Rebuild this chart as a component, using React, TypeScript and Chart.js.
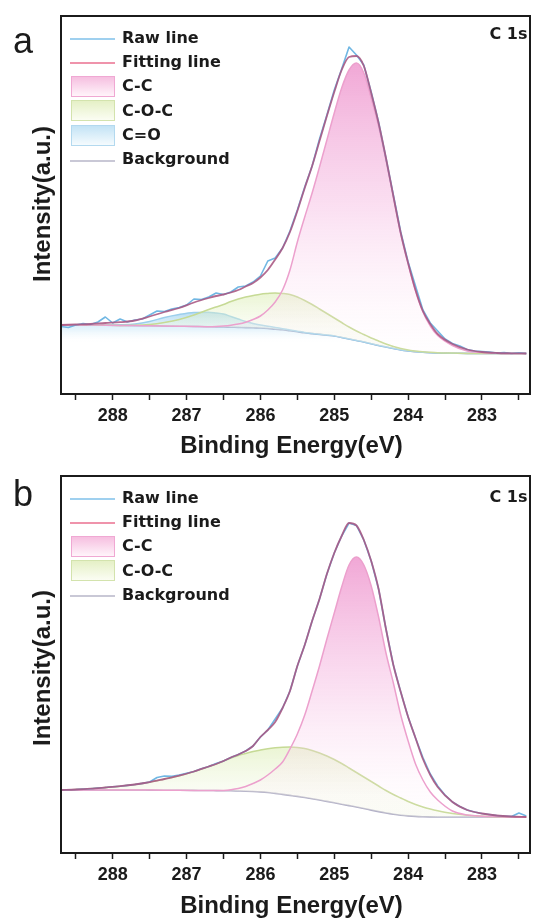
import React, { useEffect, useRef } from "react";
import { Chart, registerables } from "chart.js";

Chart.register(...registerables);

// ---------- data ----------
const X_MIN = 282.35;
const X_MAX = 288.7;
const X_TICKS = [288.5, 288, 287.5, 287, 286.5, 286, 285.5, 285, 284.5, 284, 283.5, 283, 282.5];

// energy grid for fitted components (eV)
const E_GRID = [
  288.7, 288.5, 288.3, 288.1, 287.9, 287.7, 287.5, 287.3, 287.1, 286.9, 286.7,
  286.6, 286.5, 286.4, 286.3, 286.2, 286.1, 286.0, 285.9, 285.8, 285.7, 285.6,
  285.5, 285.4, 285.3, 285.2, 285.1, 285.0, 284.9, 284.8, 284.7, 284.6, 284.5,
  284.4, 284.3, 284.2, 284.1, 284.0, 283.9, 283.8, 283.7, 283.6,
  283.4, 283.2, 283.0, 282.8, 282.6, 282.4,
];

// energy grid for raw spectra (eV)
const E_RAW = [
  288.7, 288.6, 288.5, 288.4, 288.3, 288.2, 288.1, 288.0, 287.9, 287.8,
  287.7, 287.6, 287.5, 287.4, 287.3, 287.2, 287.1, 287.0, 286.9, 286.8,
  286.7, 286.6, 286.5, 286.4, 286.3, 286.2, 286.1, 286.0, 285.9, 285.8,
  285.7, 285.6, 285.5, 285.4, 285.3, 285.2, 285.1, 285.0, 284.9, 284.8,
  284.7, 284.6, 284.5, 284.4, 284.3, 284.2, 284.1, 284.0, 283.9, 283.8,
  283.7, 283.6, 283.5, 283.4, 283.3, 283.2, 283.1, 283.0, 282.9, 282.8,
  282.7, 282.6, 282.5, 282.4,
];

// ----- panel a -----
const A_RAW = [
  67.5, 66.5, 69, 70.5, 69.5, 72, 77, 71, 75, 72,
  74, 75, 79, 83, 82.5, 85, 86.5, 89, 95, 94.5,
  97, 101, 99.5, 102, 107, 108, 112, 118, 133, 136,
  146, 163, 184, 207, 228, 255, 279, 304, 325, 347,
  339, 329, 302, 272, 236, 199, 162, 132, 108, 84,
  71, 63, 55, 50.5, 48, 44.5, 43, 42.5, 42, 41,
  41.5, 40.5, 41.2, 40.5,
];
const A_FIT = [
  69, 69.5, 70, 71, 71.8, 73.5, 77.5, 82, 86, 91.5, 96,
  98, 99.5, 101.5, 104, 107.5, 111, 116.5, 124, 134.5, 146, 162,
  183, 206, 228, 253, 278, 302, 324, 337, 338, 328, 301,
  271, 236, 198, 161, 131, 104, 83, 70, 60,
  50, 44.5, 42, 41, 40.7, 40.5,
];
const A_CC = [
  69, 69, 69, 68.8, 68.6, 68.4, 68.2, 68, 67.8, 67.6, 67.3,
  67.5, 68, 68.8, 70, 71.8, 74.5, 78, 84, 92, 104, 124,
  152, 177, 201, 227, 254, 281, 306, 324, 331, 321, 296,
  268, 234, 197, 160, 130, 103, 82, 68, 58.5,
  48.5, 43, 41.5, 40.8, 40.5, 40.5,
];
const A_COC = [
  69, 69, 69, 68.8, 68.6, 68.7, 69.5, 71.5, 74.5, 79, 84.5,
  87, 89.5, 92.5, 95, 97, 98.5, 99.8, 100.5, 101, 100.5, 99.5,
  97, 93.5, 89.5, 85, 80.5, 76, 71.5, 67, 63, 59.5, 56,
  53, 50, 47.5, 45.5, 44, 43, 42.2, 41.7, 41.3,
  40.9, 40.6, 40.5, 40.5, 40.5, 40.5,
];
const A_CO = [
  69, 69, 69, 69, 69.2, 70, 72.5, 76.5, 79.5, 81.5, 81.8,
  81, 80, 77.5, 75, 72.5, 70.5, 69, 67.8, 66.5, 65.3, 64,
  62.8, 61.6, 60.6, 59.8, 59, 58.1, 56.5, 55, 53.5, 52, 50.3,
  48.5, 47, 45.5, 44, 43, 42.3, 41.7, 41.3, 41,
  40.8, 40.6, 40.5, 40.5, 40.5, 40.5,
];
const A_BG = [
  69, 69, 69, 68.8, 68.6, 68.4, 68.2, 68, 67.8, 67.6, 67.3,
  67.1, 67, 66.8, 66.6, 66.4, 66.2, 66, 65.5, 64.8, 64.2, 63.2,
  62.2, 61.2, 60.4, 59.6, 58.8, 58, 56.5, 55, 53.5, 52, 50.3,
  48.5, 47, 45.5, 44, 43, 42.3, 41.7, 41.3, 41,
  40.8, 40.6, 40.5, 40.5, 40.5, 40.5,
];

// ----- panel b -----
const B_RAW = [
  63, 63.3, 63.5, 64, 64.3, 65, 65.5, 66.2, 66.8, 67.6,
  68.5, 69.6, 71, 75.5, 77, 76.8, 78, 79.8, 81.5, 84.2,
  86.5, 89.5, 92, 95.5, 98.5, 102, 107, 116, 123, 134,
  145, 162, 187, 208, 232, 254, 279, 300, 317, 330,
  327.5, 313, 292, 264, 224, 188, 161, 136, 115, 95.5,
  79, 67, 58, 51, 46.5, 43, 41, 39.5, 38.5, 37.5,
  37, 36.5, 40, 37,
];
const B_FIT = [
  63, 63.5, 64.3, 65.5, 66.8, 68.5, 70.8, 74, 77.3, 81.5, 86.5,
  89, 92, 95.5, 98.5, 102, 107, 116, 123, 131, 145, 162,
  187, 208, 232, 254, 279, 300, 317, 330, 327.5, 313, 292,
  264, 224, 188, 161, 136, 115, 94, 78, 66,
  51, 43, 39.5, 37.5, 36.5, 36,
];
const B_CC = [
  63, 63, 63, 63, 63, 63, 62.9, 62.8, 62.7, 62.6, 62.5,
  62.4, 62.6, 63.3, 64.5, 66.5, 69.5, 73, 78, 84, 91, 104,
  119, 138, 162, 187, 214, 240, 266, 288, 296, 288, 267,
  236, 200, 170, 138, 112, 89, 73, 61, 53,
  42, 38, 36.8, 36.3, 36, 36,
];
const B_COC = [
  63, 63.5, 64.3, 65.5, 66.8, 68.5, 70.8, 74, 77.3, 81.5, 86.5,
  89, 92, 95, 97.5, 99.5, 101.5, 103, 104.3, 105.2, 105.8, 106,
  105.6, 104.5, 102.5, 100, 97, 93.5, 89.5, 85, 80.5, 76, 71.5,
  67, 62.5, 58.5, 55, 51.5, 48.5, 46, 44, 42.3,
  39.5, 37.8, 36.8, 36.3, 36, 36,
];
const B_BG = [
  63, 63, 63, 63, 63, 63, 62.9, 62.8, 62.7, 62.6, 62.5,
  62.4, 62.3, 62.2, 62, 61.8, 61.5, 61.1, 60.5, 59.6, 58.6, 57.6,
  56.6, 55.5, 54.3, 53, 51.6, 50.2, 48.8, 47.4, 46, 44.5, 42.9,
  41.4, 40, 38.8, 37.8, 37.1, 36.6, 36.3, 36.1, 36,
  36, 36, 36, 36, 36, 36,
];

const Y_MAX_A = 378;
const Y_MAX_B = 377;

// ---------- styling ----------
const COLOR_RAW = "#70b7e3";
const COLOR_FIT = "rgba(168,86,130,0.88)";
const COLOR_CC = "#eca0cd";
const COLOR_COC = "#c6da95";
const COLOR_CO = "#9ccfec";
const COLOR_BG = "#b0aec6";
const INK = "#1b1b1b";
const ARIAL = "'Liberation Sans', Arial, Helvetica, sans-serif";
const DEJAVU = "'DejaVu Sans', Verdana, sans-serif";

const pts = (xs: number[], ys: number[]) => xs.map((x, i) => ({ x, y: ys[i] }));

function vGrad(chart: any, topVal: number, botVal: number, stops: [number, string][], extraPx = 0) {
  const { ctx, chartArea, scales } = chart;
  if (!chartArea || !scales || !scales.y) return stops[0][1];
  const t = scales.y.getPixelForValue(topVal);
  const b = scales.y.getPixelForValue(botVal) + extraPx;
  const g = ctx.createLinearGradient(0, t, 0, Math.max(b, t + 1));
  stops.forEach(([o, c]) => g.addColorStop(o, c));
  return g;
}

const CC_STOPS: [number, string][] = [
  [0, "rgba(236,138,200,0.75)"],
  [0.5, "rgba(245,185,225,0.45)"],
  [1, "rgba(255,240,250,0.08)"],
];
const COC_STOPS: [number, string][] = [
  [0, "rgba(214,234,168,0.5)"],
  [1, "rgba(240,248,222,0.3)"],
];
const CO_STOPS: [number, string][] = [
  [0, "rgba(140,200,236,0.6)"],
  [0.55, "rgba(180,222,244,0.35)"],
  [1, "rgba(255,255,255,0)"],
];

type Comp = { label: string; vals: number[]; color: string; kind: "cc" | "coc" | "co" };

function buildDatasets(raw: number[], fit: number[], comps: Comp[], bg: number[]) {
  const bgIndex = 2 + comps.length;
  const bgMin = Math.min(...bg);
  const bgMax = Math.max(...bg);
  const list: any[] = [
    {
      label: "Fitting line",
      data: pts(E_GRID, fit),
      borderColor: COLOR_FIT,
      borderWidth: 1.8,
      cubicInterpolationMode: "monotone",
      fill: false,
    },
    {
      label: "Raw line",
      data: pts(E_RAW, raw),
      borderColor: COLOR_RAW,
      borderWidth: 1.6,
      tension: 0,
      fill: false,
    },
  ];
  comps.forEach((c) => {
    const top = Math.max(...c.vals);
    let fill: any = bgIndex;
    let bgColor: any;
    if (c.kind === "cc") {
      bgColor = (ctx: any) => vGrad(ctx.chart, top, bgMin, CC_STOPS);
    } else if (c.kind === "coc") {
      bgColor = (ctx: any) => vGrad(ctx.chart, top, bgMax - 4, COC_STOPS);
    } else {
      fill = "origin";
      bgColor = (ctx: any) => vGrad(ctx.chart, top, bgMax, CO_STOPS, 18);
    }
    list.push({
      label: c.label,
      data: pts(E_GRID, c.vals),
      borderColor: c.color,
      borderWidth: 1.5,
      cubicInterpolationMode: "monotone",
      fill,
      backgroundColor: bgColor,
    });
  });
  list.push({
    label: "Background",
    data: pts(E_GRID, bg),
    borderColor: COLOR_BG,
    borderWidth: 1.6,
    cubicInterpolationMode: "monotone",
    fill: false,
  });
  return list;
}

const framePlugin = {
  id: "frame",
  afterDatasetsDraw(chart: any) {
    const { ctx, chartArea } = chart;
    const { left, top, right, bottom } = chartArea;
    ctx.save();
    ctx.strokeStyle = INK;
    ctx.lineWidth = 2;
    ctx.strokeRect(left, top, right - left, bottom - top);
    ctx.restore();
  },
};

type LegendItem = { label: string; kind: "line" | "box"; color: string; fillFrom?: string; fillTo?: string };

type PanelSpec = {
  top: number;
  height: number;
  axisH: number;
  yMax: number;
  datasets: any[];
  letter: string;
  letterTop: number;
  c1sTop: number;
  yTitleTop: number;
  legend: LegendItem[];
};

function Panel({ spec }: { spec: PanelSpec }) {
  const ref = useRef<HTMLCanvasElement | null>(null);
  useEffect(() => {
    if (!ref.current) return;
    const chart = new Chart(ref.current, {
      type: "line",
      data: { datasets: spec.datasets },
      options: {
        responsive: false,
        animation: false,
        events: [],
        layout: { padding: { left: 61, right: 4, top: 16, bottom: 0 } },
        elements: { point: { radius: 0 }, line: { borderJoinStyle: "round" } },
        plugins: { legend: { display: false }, tooltip: { enabled: false } },
        scales: {
          x: {
            type: "linear",
            reverse: true,
            min: X_MIN,
            max: X_MAX,
            afterBuildTicks: (s: any) => {
              s.ticks = X_TICKS.map((v) => ({ value: v }));
            },
            afterFit: (s: any) => {
              s.height = spec.axisH;
            },
            ticks: {
              autoSkip: false,
              maxRotation: 0,
              includeBounds: false,
              padding: 5,
              color: INK,
              font: { family: ARIAL, size: 18, weight: "bold" },
              callback: (v: any) => (Number.isInteger(Number(v)) ? String(v) : ""),
            },
            grid: {
              drawOnChartArea: false,
              drawTicks: true,
              tickLength: 6,
              tickWidth: 1.5,
              tickColor: INK,
            },
            border: { display: false },
          },
          y: { display: false, min: 0, max: spec.yMax },
        },
      } as any,
      plugins: [framePlugin],
    });
    return () => chart.destroy();
  }, []);

  const rowY = (i: number) => 37.5 + 24.3 * i;

  return (
    <div style={{ position: "absolute", left: 0, top: spec.top, width: 534, height: spec.height }}>
      <canvas
        ref={ref}
        width={534}
        height={spec.height}
        style={{ position: "absolute", left: 0, top: 0, width: 534, height: spec.height, display: "block" }}
      />
      <div
        style={{
          position: "absolute",
          left: 13,
          top: spec.letterTop,
          fontFamily: ARIAL,
          fontSize: 36,
          lineHeight: "36px",
          color: INK,
        }}
      >
        {spec.letter}
      </div>
      <div
        style={{
          position: "absolute",
          right: 6.5,
          top: spec.c1sTop,
          fontFamily: DEJAVU,
          fontWeight: "bold",
          fontSize: 16,
          lineHeight: "16px",
          color: INK,
          whiteSpace: "nowrap",
        }}
      >
        C 1s
      </div>
      {spec.legend.map((it, i) => {
        const cy = rowY(i);
        return (
          <React.Fragment key={it.label}>
            {it.kind === "line" ? (
              <div
                style={{
                  position: "absolute",
                  left: 70,
                  top: cy + 0.5,
                  width: 45,
                  height: 2,
                  background: it.color,
                }}
              />
            ) : (
              <div
                style={{
                  position: "absolute",
                  left: 71,
                  top: cy - 10,
                  width: 44,
                  height: 21,
                  boxSizing: "border-box",
                  border: `1px solid ${it.color}`,
                  background: `linear-gradient(to bottom, ${it.fillFrom}, ${it.fillTo})`,
                }}
              />
            )}
            <div
              style={{
                position: "absolute",
                left: 122,
                top: cy - 7.7,
                fontFamily: DEJAVU,
                fontWeight: "bold",
                fontSize: 16,
                lineHeight: "16px",
                color: INK,
                whiteSpace: "nowrap",
              }}
            >
              {it.label}
            </div>
          </React.Fragment>
        );
      })}
      <div
        style={{
          position: "absolute",
          left: 42,
          top: spec.yTitleTop,
          transform: "translate(-50%, -50%) rotate(-90deg)",
          fontFamily: ARIAL,
          fontWeight: "bold",
          fontSize: 24,
          lineHeight: "24px",
          color: INK,
          whiteSpace: "nowrap",
        }}
      >
        Intensity(a.u.)
      </div>
      <div
        style={{
          position: "absolute",
          left: 291.5,
          top: 432.5,
          transform: "translateX(-50%)",
          fontFamily: ARIAL,
          fontWeight: "bold",
          fontSize: 24,
          lineHeight: "24px",
          color: INK,
          whiteSpace: "nowrap",
        }}
      >
        Binding Energy(eV)
      </div>
    </div>
  );
}

const LEG_RAW: LegendItem = { label: "Raw line", kind: "line", color: "#9fd0ef" };
const LEG_FIT: LegendItem = { label: "Fitting line", kind: "line", color: "#ef93ab" };
const LEG_CC: LegendItem = { label: "C-C", kind: "box", color: "#f0a8d3", fillFrom: "#f6bfe0", fillTo: "#fff4fa" };
const LEG_COC: LegendItem = { label: "C-O-C", kind: "box", color: "#d3e3ad", fillFrom: "#e5f0c6", fillTo: "#fbfdf3" };
const LEG_CO: LegendItem = { label: "C=O", kind: "box", color: "#b3d9ef", fillFrom: "#c3e3f5", fillTo: "#f5fbfe" };
const LEG_BG: LegendItem = { label: "Background", kind: "line", color: "#c9c8d6" };

export default function App() {
  const specA: PanelSpec = {
    top: 0,
    height: 460,
    axisH: 66,
    yMax: Y_MAX_A,
    datasets: buildDatasets(
      A_RAW,
      A_FIT,
      [
        { label: "C-C", vals: A_CC, color: COLOR_CC, kind: "cc" },
        { label: "C-O-C", vals: A_COC, color: COLOR_COC, kind: "coc" },
        { label: "C=O", vals: A_CO, color: COLOR_CO, kind: "co" },
      ],
      A_BG
    ),
    letter: "a",
    letterTop: 22.5,
    c1sTop: 26,
    yTitleTop: 203.5,
    legend: [LEG_RAW, LEG_FIT, LEG_CC, LEG_COC, LEG_CO, LEG_BG],
  };
  const specB: PanelSpec = {
    top: 460,
    height: 462,
    axisH: 69,
    yMax: Y_MAX_B,
    datasets: buildDatasets(
      B_RAW,
      B_FIT,
      [
        { label: "C-C", vals: B_CC, color: COLOR_CC, kind: "cc" },
        { label: "C-O-C", vals: B_COC, color: COLOR_COC, kind: "coc" },
      ],
      B_BG
    ),
    letter: "b",
    letterTop: 16.2,
    c1sTop: 29,
    yTitleTop: 207.5,
    legend: [LEG_RAW, LEG_FIT, LEG_CC, LEG_COC, LEG_BG],
  };
  return (
    <div
      style={{
        position: "absolute",
        left: 0,
        top: 0,
        width: 534,
        height: 922,
        background: "#ffffff",
        overflow: "hidden",
      }}
    >
      <Panel spec={specA} />
      <Panel spec={specB} />
    </div>
  );
}
